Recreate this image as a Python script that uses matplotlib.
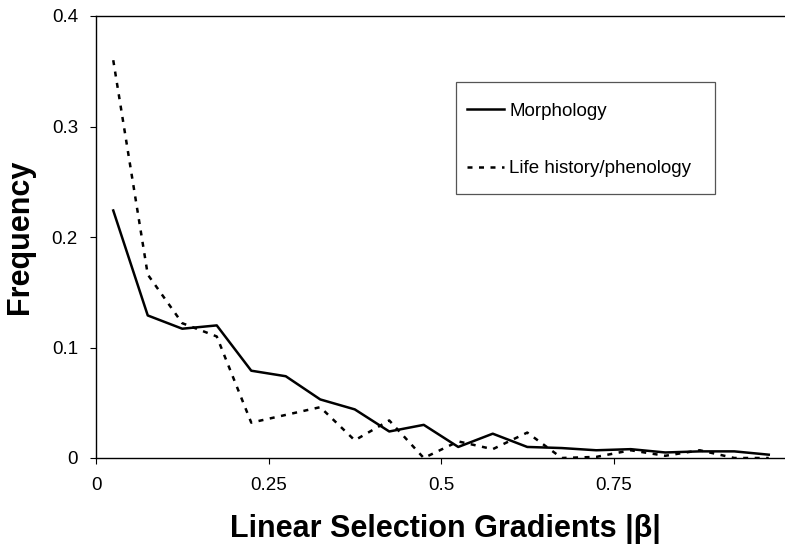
import matplotlib
matplotlib.use("Agg")
import matplotlib.pyplot as plt
from matplotlib.patches import Rectangle

plt.rcParams['font.family'] = ['Liberation Sans', 'DejaVu Sans']

bin_centers = [0.025, 0.075, 0.125, 0.175, 0.225, 0.275, 0.325, 0.375, 0.425, 0.475,
               0.525, 0.575, 0.625, 0.675, 0.725, 0.775, 0.825, 0.875, 0.925, 0.975]
morphology = [0.224, 0.129, 0.117, 0.120, 0.079, 0.074, 0.053, 0.044, 0.024, 0.030,
              0.010, 0.022, 0.010, 0.009, 0.007, 0.008, 0.005, 0.006, 0.006, 0.003]
life_history = [0.360, 0.166, 0.122, 0.110, 0.032, 0.039, 0.046, 0.016, 0.034, 0.0,
                0.015, 0.008, 0.023, 0.0, 0.001, 0.007, 0.002, 0.007, 0.0, 0.0]
xticks = [0, 0.25, 0.5, 0.75]
xtick_labels = ["0", "0.25", "0.5", "0.75"]
yticks = [0, 0.1, 0.2, 0.3, 0.4]
ytick_labels = ["0", "0.1", "0.2", "0.3", "0.4"]

W, H = 785, 552
fig = plt.figure(figsize=(W/100, H/100), dpi=100)
ax = fig.add_axes([96/W, (H-458)/H, (786-96)/W, (458-16)/H])

ax.plot(bin_centers, morphology, color='black', lw=1.8, ls='-', label='Morphology')
ax.plot(bin_centers, life_history, color='black', lw=1.8, ls=(0, (2.0, 2.6)),
        label='Life history/phenology')

ax.set_xlim(0, 1.0)
ax.set_ylim(0, 0.4)
ax.set_xticks(xticks)
ax.set_xticklabels(xtick_labels)
ax.set_yticks(yticks)
ax.set_yticklabels(ytick_labels)
ax.tick_params(axis='both', labelsize=13.5, direction='out', length=4, width=0.8)
ax.tick_params(axis='x', pad=10)
ax.tick_params(axis='y', pad=9)
ax.spines['right'].set_visible(False)
for s in ['left', 'bottom', 'top']:
    ax.spines[s].set_linewidth(1.0)

ax.set_xlabel('Linear Selection Gradients |β|', fontsize=22, fontweight='bold')
ax.set_ylabel('Frequency', fontsize=22, fontweight='bold')
ax.xaxis.set_label_coords((445-96)/690, (458-514)/442)
ax.yaxis.set_label_coords((35-96)/690, 0.5)

# legend box
fig.patches.append(Rectangle((456/W, (H-194)/H), (715-456)/W, (194-82)/H,
                             transform=fig.transFigure, fill=False,
                             edgecolor='#555555', linewidth=0.9))
leg = ax.legend(loc='center left', bbox_to_anchor=(467/W, (H-140)/H),
                bbox_transform=fig.transFigure,
                fontsize=13.5, frameon=False,
                handlelength=1.95, handletextpad=0.3, labelspacing=2.15,
                borderpad=0, borderaxespad=0)

fig.savefig('out.png', dpi=100)
